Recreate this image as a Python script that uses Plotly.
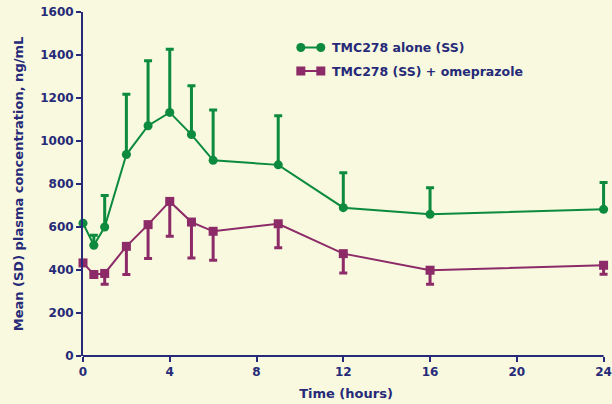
import plotly.graph_objects as go

# Time points (hours)
time_h = [0, 0.5, 1, 2, 3, 4, 5, 6, 9, 12, 16, 24]

# TMC278 alone (SS): mean and SD (ng/mL)
alone_mean = [618, 515, 600, 937, 1071, 1133, 1030, 910, 889, 690, 659, 682]
alone_sd = [0, 47, 147, 281, 302, 294, 227, 234, 229, 162, 124, 125]

# TMC278 (SS) + omeprazole: mean and SD (ng/mL)
omep_mean = [433, 379, 384, 510, 611, 719, 623, 580, 615, 476, 399, 422]
omep_sd = [0, 0, 50, 131, 158, 162, 167, 135, 111, 90, 65, 42]

x_ticks = [0, 4, 8, 12, 16, 20, 24]
y_ticks = [0, 200, 400, 600, 800, 1000, 1200, 1400, 1600]

X_MAX = 24
X_PAD = 0.25  # room on the right so the last error cap is not clipped

GREEN = "#0c8a3e"
PURPLE = "#8c2b68"
NAVY = "#262a78"
BG = "#f8f9de"
FONT = "DejaVu Sans, Verdana, sans-serif"

fig = go.Figure()

fig.add_trace(go.Scatter(
    x=time_h, y=alone_mean, mode="lines+markers", name="TMC278 alone (SS)",
    line=dict(color=GREEN, width=2),
    marker=dict(symbol="circle", size=9, color=GREEN),
    error_y=dict(type="data", symmetric=False, array=alone_sd,
                 arrayminus=[0] * len(alone_sd),
                 color=GREEN, thickness=3, width=4),
    cliponaxis=False, showlegend=False,
))

fig.add_trace(go.Scatter(
    x=time_h, y=omep_mean, mode="lines+markers", name="TMC278 (SS) + omeprazole",
    line=dict(color=PURPLE, width=2),
    marker=dict(symbol="square", size=9, color=PURPLE),
    error_y=dict(type="data", symmetric=False, array=[0] * len(omep_sd),
                 arrayminus=omep_sd,
                 color=PURPLE, thickness=3, width=4),
    cliponaxis=False, showlegend=False,
))

# Plot-area geometry in pixels
L, T, W, H = 83, 12, 612, 404
X0_PX, X24_PX, Y0_PX = 83, 604, 356
plot_w = (X24_PX - X0_PX) * (X_MAX + X_PAD) / X_MAX
R = W - L - plot_w
B = H - Y0_PX


def px_x(px):
    return (px - L) / plot_w


def px_y(py):
    return (Y0_PX - py) / (Y0_PX - T)


shapes = [
    # x axis baseline running from 0 to 24 h
    dict(type="line", xref="x", yref="paper", x0=0, x1=X_MAX, y0=0, y1=0,
         line=dict(color=NAVY, width=2), layer="above"),
]
annotations = []

# Hand-built legend: marker-line-marker glyphs plus labels
legend_rows = [
    ("TMC278 alone (SS)", GREEN, "circle", 47.5),
    ("TMC278 (SS) + omeprazole", PURPLE, "square", 71),
]
for label, color, sym, py in legend_rows:
    shapes.append(dict(type="line", xref="paper", yref="paper",
                       x0=px_x(301), x1=px_x(321), y0=px_y(py), y1=px_y(py),
                       line=dict(color=color, width=2)))
    for cx in (301, 321):
        r = 4.5
        shapes.append(dict(type="circle" if sym == "circle" else "rect",
                           xref="paper", yref="paper",
                           x0=px_x(cx - r), x1=px_x(cx + r),
                           y0=px_y(py + r), y1=px_y(py - r),
                           fillcolor=color, line=dict(color=color, width=0)))
    annotations.append(dict(text=label, xref="paper", yref="paper",
                            x=px_x(330), y=px_y(py), xanchor="left", yanchor="middle",
                            showarrow=False,
                            font=dict(family=FONT, size=12.5, color=NAVY, weight="bold")))

fig.update_layout(
    width=W, height=H,
    margin=dict(l=L, r=R, t=T, b=B, autoexpand=False),
    paper_bgcolor=BG, plot_bgcolor=BG,
    font=dict(family=FONT, size=12, color=NAVY, weight="bold"),
    shapes=shapes, annotations=annotations,
    showlegend=False,
)

fig.update_xaxes(
    range=[0, X_MAX + X_PAD], tickvals=x_ticks, ticktext=[str(v) for v in x_ticks],
    showgrid=False, zeroline=False, automargin=False,
    showline=False,
    ticks="outside", ticklen=5, tickwidth=2, tickcolor=NAVY,
    tickfont=dict(family=FONT, size=12, color=NAVY, weight="bold"),
    title=dict(text="Time (hours)", standoff=10,
               font=dict(family=FONT, size=13, color=NAVY, weight="bold")),
)

fig.update_yaxes(
    range=[0, 1600], tickvals=y_ticks, ticktext=[str(v) for v in y_ticks],
    showgrid=False, zeroline=False, automargin=False,
    showline=True, linecolor=NAVY, linewidth=2,
    ticks="outside", ticklen=5, tickwidth=2, tickcolor=NAVY,
    tickfont=dict(family=FONT, size=12, color=NAVY, weight="bold"),
    title=dict(text="Mean (SD) plasma concentration, ng/mL", standoff=14,
               font=dict(family=FONT, size=13, color=NAVY, weight="bold")),
)

fig.write_html("out.html")
